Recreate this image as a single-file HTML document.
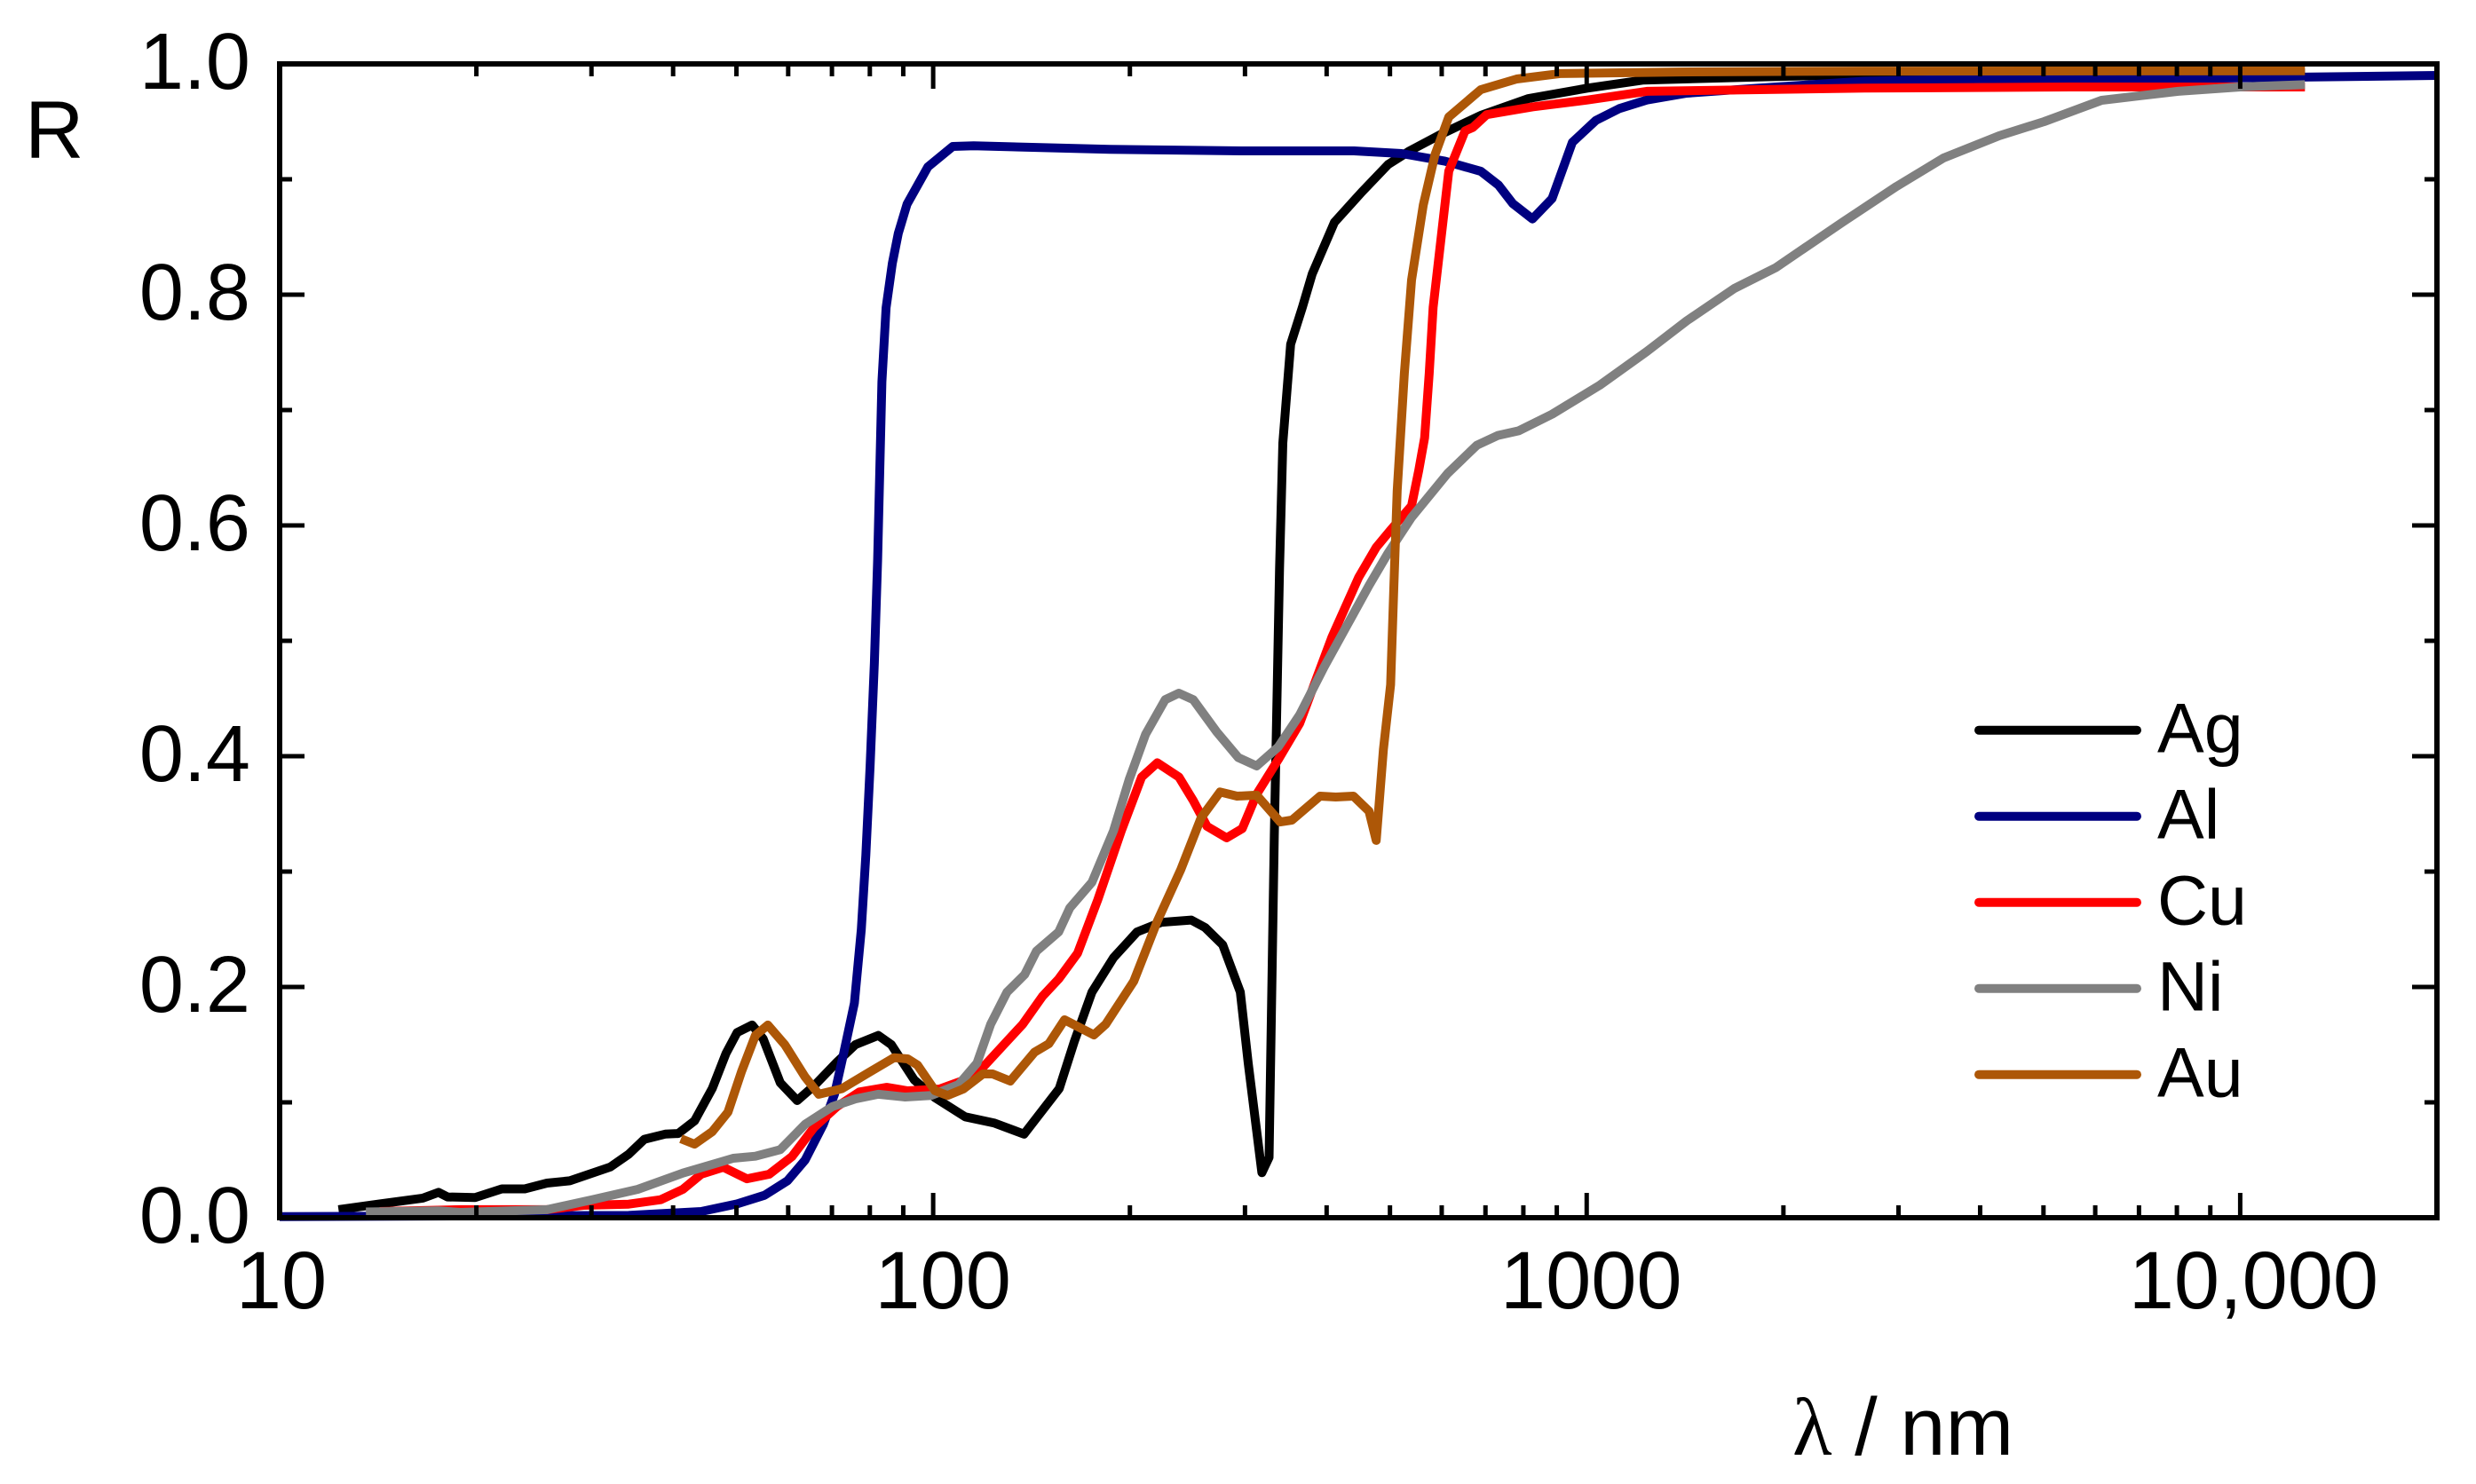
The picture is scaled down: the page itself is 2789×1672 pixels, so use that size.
<!DOCTYPE html>
<html lang="en">
<head>
<meta charset="utf-8">
<title>Reflectance of metals versus wavelength</title>
<style>
  html, body { margin: 0; padding: 0; background: #fff; }
  body { width: 2789px; height: 1672px; overflow: hidden; }
  svg { display: block; }
  text { font-family: "Liberation Sans", Arial, sans-serif; fill: #000; }
</style>
</head>
<body>
<svg id="chart" xmlns="http://www.w3.org/2000/svg" width="2789" height="1672" viewBox="0 0 2789 1672">
  <rect width="2789" height="1672" fill="#fff"/>
  <g id="series"></g>
  <g id="axes"></g>
  <g id="legend"></g>
</svg>
<script>
// log10(wavelength / nm) and reflectance for each metal
const agLogNm = [1.09,1.153,1.219,1.243,1.257,1.299,1.34,1.375,1.409,1.444,1.506,1.534,1.558,1.59,1.61,1.635,1.662,1.683,1.7,1.723,1.74,1.766,1.792,1.818,1.853,1.881,1.916,1.936,1.971,2.003,2.049,2.094,2.139,2.193,2.216,2.243,2.276,2.312,2.349,2.395,2.416,2.443,2.47,2.482,2.503,2.514,2.522,2.53,2.535,2.547,2.565,2.58,2.614,2.656,2.696,2.729,2.777,2.838,2.911,3.001,3.087,3.262,3.425,3.75,4.099];
const agR = [0.007,0.012,0.017,0.022,0.018,0.0175,0.025,0.025,0.03,0.032,0.044,0.055,0.068,0.0725,0.073,0.084,0.112,0.1425,0.1605,0.167,0.155,0.117,0.1015,0.1145,0.135,0.15,0.158,0.15,0.1195,0.104,0.0875,0.082,0.0725,0.112,0.1527,0.1955,0.2254,0.2477,0.256,0.258,0.2515,0.2366,0.1955,0.134,0.039,0.0523,0.3315,0.563,0.6715,0.757,0.789,0.818,0.8627,0.889,0.9128,0.9246,0.939,0.9554,0.97,0.979,0.986,0.9887,0.9908,0.992,0.992];

const alLogNm = [1,1.534,1.645,1.7,1.742,1.777,1.804,1.832,1.849,1.863,1.8795,1.89,1.897,1.9035,1.91,1.915,1.9216,1.928,1.9375,1.9466,1.96,1.992,2.03,2.062,2.27,2.474,2.644,2.717,2.783,2.838,2.865,2.887,2.917,2.947,2.978,3.014,3.05,3.092,3.153,3.262,3.425,3.6,3.973,4.301];
const alR = [0.001,0.002,0.0054,0.012,0.0195,0.032,0.05,0.081,0.107,0.1425,0.186,0.25,0.3144,0.3915,0.481,0.5708,0.7246,0.7887,0.827,0.853,0.8785,0.9108,0.9285,0.929,0.926,0.9246,0.9246,0.9223,0.9157,0.9069,0.895,0.8789,0.8656,0.8833,0.932,0.951,0.9613,0.9687,0.9746,0.979,0.985,0.987,0.9877,0.99];

const cuLogNm = [1.153,1.277,1.409,1.465,1.534,1.583,1.617,1.645,1.679,1.715,1.749,1.784,1.818,1.853,1.887,1.929,1.961,2.01,2.046,2.076,2.137,2.167,2.192,2.221,2.252,2.288,2.319,2.343,2.376,2.398,2.419,2.449,2.473,2.495,2.528,2.561,2.61,2.651,2.678,2.7,2.732,2.743,2.752,2.759,2.765,2.777,2.789,2.814,2.826,2.847,2.917,3.001,3.092,3.425,3.74,4.099];
const cuR = [0.0054,0.007,0.007,0.0108,0.0118,0.0156,0.0246,0.0377,0.0438,0.0338,0.0377,0.053,0.0785,0.0964,0.109,0.113,0.11,0.1115,0.119,0.1303,0.1677,0.1918,0.2069,0.2292,0.2757,0.3354,0.382,0.3943,0.382,0.3615,0.3392,0.3292,0.3372,0.367,0.397,0.4286,0.503,0.555,0.581,0.596,0.617,0.6477,0.676,0.732,0.789,0.848,0.907,0.942,0.945,0.956,0.9628,0.9687,0.9762,0.979,0.98,0.98];

const niLogNm = [1.132,1.243,1.277,1.409,1.478,1.548,1.617,1.694,1.728,1.766,1.804,1.846,1.881,1.916,1.957,1.997,2.039,2.067,2.088,2.113,2.14,2.158,2.192,2.209,2.243,2.276,2.3,2.325,2.355,2.376,2.398,2.434,2.467,2.495,2.528,2.561,2.598,2.667,2.696,2.732,2.787,2.832,2.864,2.896,2.947,3.02,3.092,3.153,3.226,3.289,3.392,3.474,3.546,3.631,3.7,3.788,3.905,4,4.099];
const niR = [0.005,0.006,0.0046,0.007,0.0156,0.0246,0.0387,0.0515,0.0533,0.059,0.081,0.0964,0.103,0.107,0.1046,0.106,0.1154,0.134,0.1677,0.1955,0.2108,0.231,0.2477,0.2685,0.2908,0.3354,0.38,0.419,0.449,0.4546,0.449,0.421,0.3988,0.3915,0.408,0.436,0.477,0.548,0.576,0.607,0.645,0.6695,0.678,0.682,0.6964,0.7215,0.7508,0.7773,0.8054,0.8233,0.863,0.8938,0.9185,0.9377,0.95,0.9685,0.9762,0.98,0.982];

const auLogNm = [1.614,1.635,1.662,1.686,1.707,1.728,1.747,1.773,1.804,1.825,1.86,1.902,1.94,1.961,1.976,2.003,2.022,2.046,2.076,2.091,2.118,2.155,2.177,2.201,2.246,2.264,2.307,2.343,2.379,2.41,2.439,2.465,2.495,2.531,2.549,2.592,2.616,2.643,2.667,2.678,2.689,2.7,2.705,2.71,2.721,2.732,2.75,2.768,2.789,2.838,2.893,2.959,3.141,3.425,4.099];
const auR = [0.0685,0.0638,0.0746,0.0915,0.127,0.158,0.167,0.15,0.122,0.107,0.1118,0.126,0.1387,0.1377,0.1323,0.11,0.106,0.1115,0.1246,0.1246,0.1185,0.1434,0.1508,0.1715,0.1585,0.1677,0.205,0.257,0.3018,0.3465,0.369,0.3654,0.3662,0.343,0.3446,0.3654,0.3646,0.3654,0.3523,0.327,0.406,0.462,0.548,0.63,0.732,0.8127,0.8777,0.9215,0.954,0.9777,0.9869,0.9916,0.993,0.9938,0.994];

const yTickValues = [0, 0.2, 0.4, 0.6, 0.8, 1];
const yTickLabels = ["0.0", "0.2", "0.4", "0.6", "0.8", "1.0"];
const yMinorValues = [0.1, 0.3, 0.5, 0.7, 0.9];
const xTickValues = [10, 100, 1000, 10000];
const xTickLabels = ["10", "100", "1000", "10,000"];
const xMinorMultipliers = [2, 3, 4, 5, 6, 7, 8, 9];
const legendLabels = ["Ag", "Al", "Cu", "Ni", "Au"];

const PLOT = { left: 315, right: 2745, top: 72, bottom: 1372 };
const LOG_MIN = 1, LOG_MAX = Math.log10(20000);
const NS = "http://www.w3.org/2000/svg";

function xFromLog(u) { return PLOT.left + (u - LOG_MIN) / (LOG_MAX - LOG_MIN) * (PLOT.right - PLOT.left); }
function yFromR(r) { return PLOT.bottom - r * (PLOT.bottom - PLOT.top); }
function make(tag, attrs, parent) {
  const el = document.createElementNS(NS, tag);
  for (const k in attrs) el.setAttribute(k, attrs[k]);
  parent.appendChild(el);
  return el;
}

const seriesGroup = document.getElementById("series");
const axesGroup = document.getElementById("axes");
const legendGroup = document.getElementById("legend");
const seriesColors = ["#000000", "#000080", "#ff0000", "#808080", "#ad5707"];
const seriesX = [agLogNm, alLogNm, cuLogNm, niLogNm, auLogNm];
const seriesY = [agR, alR, cuR, niR, auR];

legendLabels.forEach(function (label, i) {
  const pts = seriesX[i].map(function (u, j) { return xFromLog(u).toFixed(1) + "," + yFromR(seriesY[i][j]).toFixed(1); }).join(" ");
  const line = make("polyline", { points: pts, fill: "none", stroke: seriesColors[i], "stroke-width": 10, "stroke-linejoin": "round", "stroke-linecap": "butt" }, seriesGroup);
  
  
  line.setAttribute('data-series', label);

  const ly = 822.7 + i * 97;
  const key = make("line", { x1: 2229, x2: 2407, y1: ly, y2: ly, stroke: seriesColors[i], "stroke-width": 10, "stroke-linecap": "round" }, legendGroup);
  
  
  const txt = make("text", { x: 2430, y: ly + 25, "font-size": 79 }, legendGroup);
  txt.textContent = label;
  
  
});

function tickLine(x1, y1, x2, y2, name) {
  const t = make("line", { x1: x1, y1: y1, x2: x2, y2: y2, stroke: "#000", "stroke-width": 5 }, axesGroup);
  
  
}

const MAJOR = 28, MINOR = 14;
yTickValues.forEach(function (v, i) {
  const y = yFromR(v);
  tickLine(PLOT.left, y, PLOT.left + MAJOR, y, 'y-major-tick');
  tickLine(PLOT.right, y, PLOT.right - MAJOR, y, 'y-major-tick-right');
  const lab = make("text", { x: 282, y: y + 28, "font-size": 90, "text-anchor": "end" }, axesGroup);
  lab.textContent = yTickLabels[i];
  
  
});
yMinorValues.forEach(function (v) {
  const y = yFromR(v);
  tickLine(PLOT.left, y, PLOT.left + MINOR, y, 'y-minor-tick');
  tickLine(PLOT.right, y, PLOT.right - MINOR, y, 'y-minor-tick-right');
});
xTickValues.forEach(function (v, i) {
  const x = xFromLog(Math.log10(v));
  tickLine(x, PLOT.bottom, x, PLOT.bottom - MAJOR, 'x-major-tick');
  tickLine(x, PLOT.top, x, PLOT.top + MAJOR, 'x-major-tick-top');
  const lab = make("text", { x: x + (i === 3 ? 15 : i === 0 ? 2 : i === 2 ? 5 : 11), y: 1474, "font-size": 92, "text-anchor": "middle" }, axesGroup);
  lab.textContent = xTickLabels[i];
  
  
  xMinorMultipliers.forEach(function (m) {
    const val = v * m;
    if (val > 20000) return;
    const mx = xFromLog(Math.log10(val));
    tickLine(mx, PLOT.bottom, mx, PLOT.bottom - MINOR, 'x-minor-tick');
    tickLine(mx, PLOT.top, mx, PLOT.top + MINOR, 'x-minor-tick-top');
  });
});

const frame = make("rect", { x: PLOT.left, y: PLOT.top, width: PLOT.right - PLOT.left, height: PLOT.bottom - PLOT.top, fill: "none", stroke: "#000", "stroke-width": 6 }, axesGroup);



const yTitle = make("text", { x: 28, y: 178, "font-size": 92 }, axesGroup);
yTitle.textContent = "R";



const xTitle = make("text", { x: 2019, y: 1639, "font-size": 92 }, axesGroup);


const lam = make("tspan", { "font-family": "Liberation Serif, serif" }, xTitle);
lam.textContent = "λ";
const rest = make("tspan", {}, xTitle);
rest.textContent = " / nm";
</script>
</body>
</html>
